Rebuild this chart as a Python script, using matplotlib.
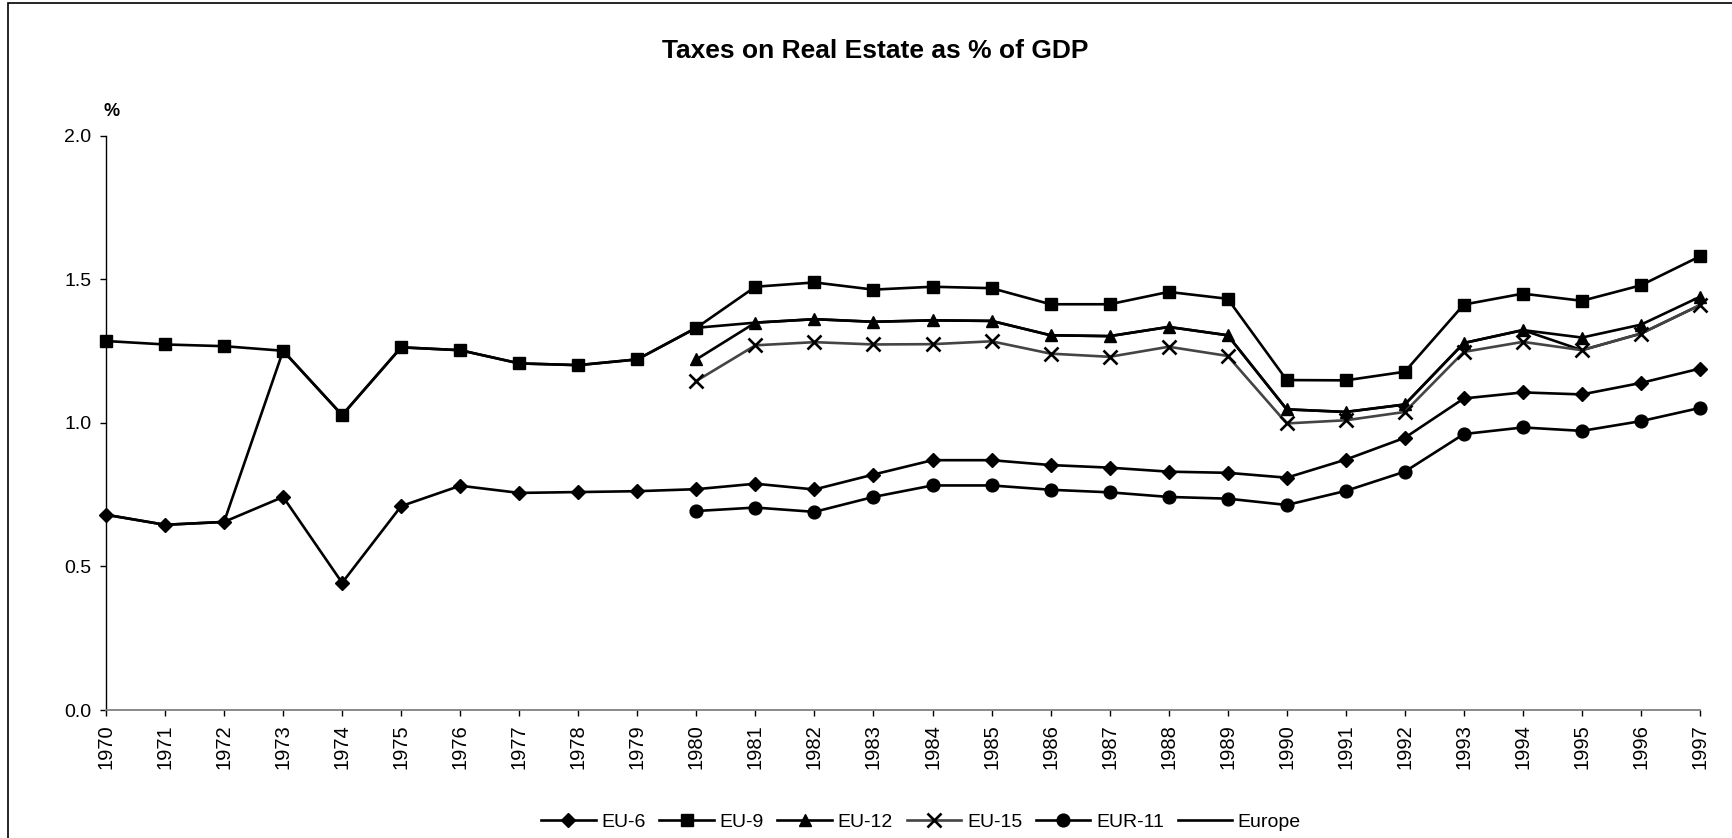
import numpy as np
import matplotlib
matplotlib.use("Agg")
import matplotlib.pyplot as plt
from matplotlib.patches import Rectangle

plt.rcParams['font.family'] = ['Liberation Sans', 'DejaVu Sans']

years = list(range(1970, 1998))
nan = np.nan

eu6 = [0.680, 0.645, 0.655, 0.742, 0.443, 0.710, 0.781, 0.756, 0.759, 0.762,
       0.769, 0.788, 0.768, 0.820, 0.870, 0.870, 0.853, 0.844, 0.830, 0.826,
       0.809, 0.872, 0.948, 1.085, 1.106, 1.099, 1.139, 1.189]
eu9 = [1.285, 1.273, 1.267, 1.251, 1.027, 1.263, 1.253, 1.207, 1.201, 1.221,
       1.331, 1.474, 1.489, 1.464, 1.474, 1.469, 1.413, 1.413, 1.456, 1.432,
       1.149, 1.148, 1.178, 1.412, 1.450, 1.425, 1.479, 1.580]
eu12 = [nan] * 10 + [1.221, 1.349, 1.361, 1.352, 1.357, 1.355, 1.305, 1.302, 1.334, 1.305,
                     1.047, 1.038, 1.064, 1.278, 1.323, 1.297, 1.342, 1.439]
eu15 = [nan] * 10 + [1.146, 1.270, 1.281, 1.273, 1.274, 1.284, 1.241, 1.230, 1.265, 1.233,
                     0.998, 1.009, 1.038, 1.247, 1.282, 1.253, 1.311, 1.410]
eur11 = [nan] * 10 + [0.693, 0.705, 0.690, 0.742, 0.782, 0.782, 0.767, 0.758, 0.742, 0.736,
                      0.714, 0.763, 0.830, 0.961, 0.984, 0.972, 1.006, 1.052]
europe = [0.680, 0.645, 0.655, 1.251, 1.027, 1.263, 1.253, 1.207, 1.201, 1.221,
          1.331, 1.349, 1.361, 1.352, 1.357, 1.355, 1.305, 1.302, 1.334, 1.305,
          1.047, 1.038, 1.064, 1.278, 1.323, 1.253, 1.311, 1.410]

W, H = 1733, 838
fig = plt.figure(figsize=(W / 100, H / 100), dpi=100)
ax = fig.add_axes([106 / W, 1 - 710 / H, (1700 - 106) / W, (710 - 135.7) / H])

lw = 1.9
ax.plot(years, europe, color='black', lw=lw, label='Europe', clip_on=False, zorder=2)
ax.plot(years, eu6, color='black', lw=lw, marker='D', ms=6.8, mfc='black', mec='black',
        label='EU-6', clip_on=False, zorder=3)
ax.plot(years, eu9, color='black', lw=lw, marker='s', ms=9.2, mfc='black', mec='black',
        label='EU-9', clip_on=False, zorder=3)
ax.plot(years, eu12, color='black', lw=lw, marker='^', ms=9.2, mfc='black', mec='black',
        label='EU-12', clip_on=False, zorder=3)
ax.plot(years, eu15, color='#444444', lw=lw, marker='x', ms=9.5, mew=1.9, mfc='black', mec='black',
        label='EU-15', clip_on=False, zorder=3)
ax.plot(years, eur11, color='black', lw=lw, marker='o', ms=9.2, mfc='black', mec='black',
        label='EUR-11', clip_on=False, zorder=3)

ax.set_xlim(1970, 1997)
ax.set_ylim(0, 2.0)
ax.set_xticks(years)
ax.set_xticklabels([str(y) for y in years], rotation=90, fontsize=14.5)
ax.set_yticks([0.0, 0.5, 1.0, 1.5, 2.0])
ax.set_yticklabels(['0.0', '0.5', '1.0', '1.5', '2.0'], fontsize=14)
ax.tick_params(axis='y', direction='out', length=4.5, width=1, pad=6, colors='black')
ax.tick_params(axis='x', direction='out', length=4.5, width=1, pad=6, colors='black')
for s in ['top', 'right']:
    ax.spines[s].set_visible(False)
ax.spines['left'].set_color('black')
ax.spines['left'].set_linewidth(1)
ax.spines['bottom'].set_color('#808080')
ax.spines['bottom'].set_linewidth(1.3)

fig.text(875 / W, 1 - 51 / H, 'Taxes on Real Estate as % of GDP', ha='center', va='center',
         fontsize=19, fontweight='bold')
fig.text(112 / W, 1 - 111 / H, '%', ha='center', va='center', fontsize=13, fontweight='bold')

handles, labels = ax.get_legend_handles_labels()
order = ['EU-6', 'EU-9', 'EU-12', 'EU-15', 'EUR-11', 'Europe']
hmap = dict(zip(labels, handles))
leg = fig.legend([hmap[k] for k in order], order, loc='center', bbox_to_anchor=(921 / W, 1 - 822 / H),
                 ncol=6, frameon=False, fontsize=14, handlelength=2.8, handletextpad=0.3,
                 columnspacing=0.7, borderpad=0)

fig.patches.append(Rectangle((8 / W, -0.5), 2, 1.5 - 3 / H, transform=fig.transFigure,
                             fill=False, edgecolor='black', lw=1.2))

fig.savefig('out.png', dpi=100)
